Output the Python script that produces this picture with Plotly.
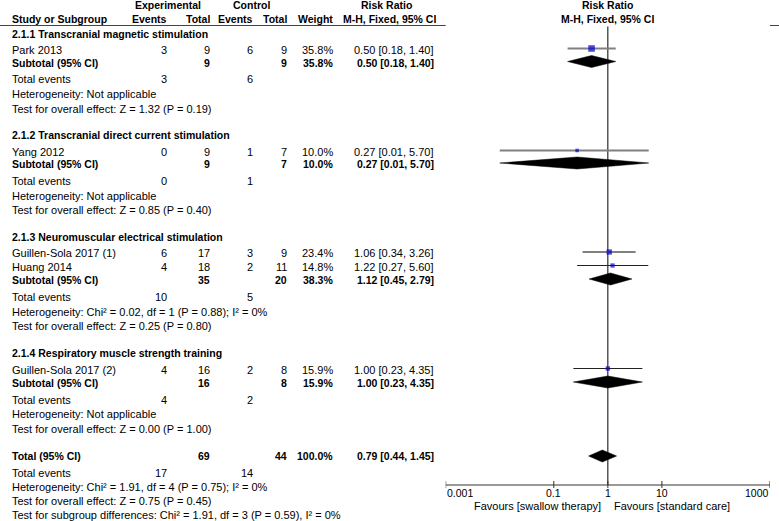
import numpy as np
import plotly.graph_objects as go

W, H = 779, 521
FONT = "Liberation Sans, Arial, sans-serif"

# ---------------- data ----------------
subgroup_titles = [
    "2.1.1 Transcranial magnetic stimulation",
    "2.1.2 Transcranial direct current stimulation",
    "2.1.3 Neuromuscular electrical stimulation",
    "2.1.4 Respiratory muscle strength training",
]
study_names = ["Park 2013", "Yang 2012", "Guillen-Sola 2017 (1)", "Huang 2014", "Guillen-Sola 2017 (2)"]
study_group = [0, 1, 2, 2, 3]
exp_events = [3, 0, 6, 4, 4]
exp_total = [9, 9, 17, 18, 16]
ctrl_events = [6, 1, 3, 2, 2]
ctrl_total = [9, 7, 9, 11, 8]
study_weight = [35.8, 10.0, 23.4, 14.8, 15.9]
study_rr = [0.50, 0.27, 1.06, 1.22, 1.00]
study_lo = [0.18, 0.01, 0.34, 0.27, 0.23]
study_hi = [1.40, 5.70, 3.26, 5.60, 4.35]

sub_exp_total = [9, 9, 35, 16]
sub_ctrl_total = [9, 7, 20, 8]
sub_weight = [35.8, 10.0, 38.3, 15.9]
sub_rr = [0.50, 0.27, 1.12, 1.00]
sub_lo = [0.18, 0.01, 0.45, 0.23]
sub_hi = [1.40, 5.70, 2.79, 4.35]
sub_exp_events = [3, 0, 10, 4]
sub_ctrl_events = [6, 1, 5, 2]
sub_het = [
    "Heterogeneity: Not applicable",
    "Heterogeneity: Not applicable",
    "Heterogeneity: Chi² = 0.02, df = 1 (P = 0.88); I² = 0%",
    "Heterogeneity: Not applicable",
]
sub_test = [
    "Test for overall effect: Z = 1.32 (P = 0.19)",
    "Test for overall effect: Z = 0.85 (P = 0.40)",
    "Test for overall effect: Z = 0.25 (P = 0.80)",
    "Test for overall effect: Z = 0.00 (P = 1.00)",
]
total_exp_total, total_ctrl_total = 69, 44
total_weight = 100.0
total_rr, total_lo, total_hi = 0.79, 0.44, 1.45
total_exp_events, total_ctrl_events = 17, 14
total_het = "Heterogeneity: Chi² = 1.91, df = 4 (P = 0.75); I² = 0%"
total_test = "Test for overall effect: Z = 0.75 (P = 0.45)"
subgroup_diff = "Test for subgroup differences: Chi² = 1.91, df = 3 (P = 0.59), I² = 0%"

tick_vals = [0.001, 0.1, 1, 10, 1000]
tick_text = ["0.001", "0.1", "1", "10", "1000"]
favours_left = "Favours [swallow therapy]"
favours_right = "Favours [standard care]"

# ---------------- layout positions (pixels from top) ----------------
y_head1, y_head2, y_rule = 5, 19, 25.5
rows_group = [34, 135, 236.5, 352.5]
rows_study = [49.5, 151.5, 253, 266.5, 369.5]
rows_sub = [62.5, 164, 280, 383]
rows_events = [79, 181, 297, 399.5]
rows_het = [94, 195.5, 311.5, 414]
rows_test = [108.5, 210, 326, 428.5]
row_total, row_total_ev, row_total_het, row_total_test, row_subdiff = 456, 472.5, 487, 501, 514.5
y_axis = 485
y_ticklab = 492.5
y_favours = 505.5

COL_NAME, COL_EE, COL_ET, COL_CE, COL_CT, COL_W, COL_RR = 11, 168, 211, 254, 288, 334, 435
X_EXP_HDR, X_CTL_HDR, X_RR_HDR = 168, 251, 386

ci_colors = ["#808080", "#808080", "#808080", "#222222", "#222222"]
ci_widths = [1.8, 1.8, 1.8, 1.1, 1.1]

fig = go.Figure()
ann = []


def txt(x, y, s, anchor="left", bold=False, xref="x", size=None):
    ann.append(dict(
        x=x, y=y, xref=xref, yref="y", text=("<b>%s</b>" % s) if bold else s,
        showarrow=False, xanchor=anchor, yanchor="middle", borderpad=0,
        font=dict(family=FONT, size=size if size else (10.5 if bold else 11), color="#000000"),
    ))


# headers
txt(X_EXP_HDR, y_head1, "Experimental", "center", True)
txt(X_CTL_HDR, y_head1, "Control", "center", True)
txt(X_RR_HDR, y_head1, "Risk Ratio", "center", True)
txt(COL_NAME, y_head2, "Study or Subgroup", "left", True)
txt(COL_EE, y_head2, "Events", "right", True)
txt(COL_ET, y_head2, "Total", "right", True)
txt(COL_CE, y_head2, "Events", "right", True)
txt(COL_CT, y_head2, "Total", "right", True)
txt(COL_W, y_head2, "Weight", "right", True)
txt(X_RR_HDR + 3, y_head2, "M-H, Fixed, 95% CI", "center", True)
txt(0, y_head1, "Risk Ratio", "center", True, xref="x2")
txt(0, y_head2, "M-H, Fixed, 95% CI", "center", True, xref="x2")


def rrs(r, lo, hi):
    return "%.2f [%.2f, %.2f]" % (r, lo, hi)


# group blocks
for g in range(len(subgroup_titles)):
    txt(COL_NAME, rows_group[g], subgroup_titles[g], "left", True)
    for i in range(len(study_names)):
        if study_group[i] != g:
            continue
        y = rows_study[i]
        txt(COL_NAME, y, study_names[i])
        txt(COL_EE, y, str(exp_events[i]), "right")
        txt(COL_ET, y, str(exp_total[i]), "right")
        txt(COL_CE, y, str(ctrl_events[i]), "right")
        txt(COL_CT, y, str(ctrl_total[i]), "right")
        txt(COL_W, y, "%.1f%%" % study_weight[i], "right")
        txt(COL_RR, y, rrs(study_rr[i], study_lo[i], study_hi[i]), "right")
    y = rows_sub[g]
    txt(COL_NAME, y, "Subtotal (95% CI)", "left", True)
    txt(COL_ET, y, str(sub_exp_total[g]), "right", True)
    txt(COL_CT, y, str(sub_ctrl_total[g]), "right", True)
    txt(COL_W, y, "%.1f%%" % sub_weight[g], "right", True)
    txt(COL_RR, y, rrs(sub_rr[g], sub_lo[g], sub_hi[g]), "right", True)
    txt(COL_NAME, rows_events[g], "Total events")
    txt(COL_EE, rows_events[g], str(sub_exp_events[g]), "right")
    txt(COL_CE, rows_events[g], str(sub_ctrl_events[g]), "right")
    txt(COL_NAME, rows_het[g], sub_het[g])
    txt(COL_NAME, rows_test[g], sub_test[g])

# overall
txt(COL_NAME, row_total, "Total (95% CI)", "left", True)
txt(COL_ET, row_total, str(total_exp_total), "right", True)
txt(COL_CT, row_total, str(total_ctrl_total), "right", True)
txt(COL_W, row_total, "%.1f%%" % total_weight, "right", True)
txt(COL_RR, row_total, rrs(total_rr, total_lo, total_hi), "right", True)
txt(COL_NAME, row_total_ev, "Total events")
txt(COL_EE, row_total_ev, str(total_exp_events), "right")
txt(COL_CE, row_total_ev, str(total_ctrl_events), "right")
txt(COL_NAME, row_total_het, total_het)
txt(COL_NAME, row_total_test, total_test)
txt(COL_NAME, row_subdiff, subgroup_diff)

# header rule
fig.add_trace(go.Scatter(x=[0, W], y=[y_rule, y_rule], xaxis="x", yaxis="y", mode="lines",
                         line=dict(color="#444444", width=1.2), hoverinfo="skip", showlegend=False))

# line of no effect
fig.add_trace(go.Scatter(x=[1, 1], y=[y_rule + 1, y_axis], xaxis="x2", yaxis="y", mode="lines",
                         line=dict(color="#000000", width=1), hoverinfo="skip", showlegend=False))

# CIs
for i in range(len(study_names)):
    fig.add_trace(go.Scatter(x=[study_lo[i], study_hi[i]], y=[rows_study[i] - 1, rows_study[i] - 1],
                             xaxis="x2", yaxis="y", mode="lines",
                             line=dict(color=ci_colors[i], width=ci_widths[i]),
                             hoverinfo="skip", showlegend=False))
# squares
fig.add_trace(go.Scatter(x=study_rr, y=[r - 1 for r in rows_study], xaxis="x2", yaxis="y", mode="markers",
                         marker=dict(symbol="square", color="#0000cc",
                                     size=[1.1 * np.sqrt(w) for w in study_weight], line=dict(width=0)),
                         hoverinfo="skip", showlegend=False))


# diamonds
def diamond(r, lo, hi, y, half=6):
    fig.add_trace(go.Scatter(x=[lo, r, hi, r, lo], y=[y, y - half, y, y + half, y],
                             xaxis="x2", yaxis="y", mode="lines", fill="toself",
                             fillcolor="#000000", line=dict(color="#000000", width=0.5),
                             hoverinfo="skip", showlegend=False))


for g in range(len(sub_rr)):
    diamond(sub_rr[g], sub_lo[g], sub_hi[g], rows_sub[g] - 1)
diamond(total_rr, total_lo, total_hi, row_total)

# axis line and ticks
fig.add_trace(go.Scatter(x=[tick_vals[0], tick_vals[-1]], y=[y_axis, y_axis], xaxis="x2", yaxis="y",
                         mode="lines", line=dict(color="#333333", width=1), hoverinfo="skip", showlegend=False))
tx, ty = [], []
for t in tick_vals:
    tx += [t, t, None]
    ty += [y_axis - 4, y_axis + 3, None]
fig.add_trace(go.Scatter(x=tx, y=ty, xaxis="x2", yaxis="y", mode="lines",
                         line=dict(color="#333333", width=1), hoverinfo="skip", showlegend=False))
for k, (t, s) in enumerate(zip(tick_vals, tick_text)):
    anc = "left" if k == 0 else ("right" if k == len(tick_vals) - 1 else "center")
    txt(np.log10(t), y_ticklab, s, anc, xref="x2", size=10.5)

a = dict(x=0, y=y_favours, xref="x2", yref="y", showarrow=False, yanchor="middle", borderpad=0,
         font=dict(family=FONT, size=11, color="#000000"))
ann.append(dict(a, text=favours_left, xanchor="right", xshift=-6))
ann.append(dict(a, text=favours_right, xanchor="left", xshift=5))

fig.update_layout(
    width=W, height=H, margin=dict(l=0, r=0, t=0, b=0),
    paper_bgcolor="white", plot_bgcolor="white",
    xaxis=dict(range=[0, W], domain=[0, 1], visible=False, fixedrange=True),
    xaxis2=dict(type="log", range=[-3, 3], domain=[445.7 / W, 770 / W], anchor="y",
                visible=False, fixedrange=True),
    yaxis=dict(range=[H, 0], domain=[0, 1], visible=False, fixedrange=True),
    annotations=ann, showlegend=False,
)
fig.write_html("out.html", config={"displayModeBar": False},
               post_script="document.body.style.margin='0px';document.body.style.overflow='hidden';")
